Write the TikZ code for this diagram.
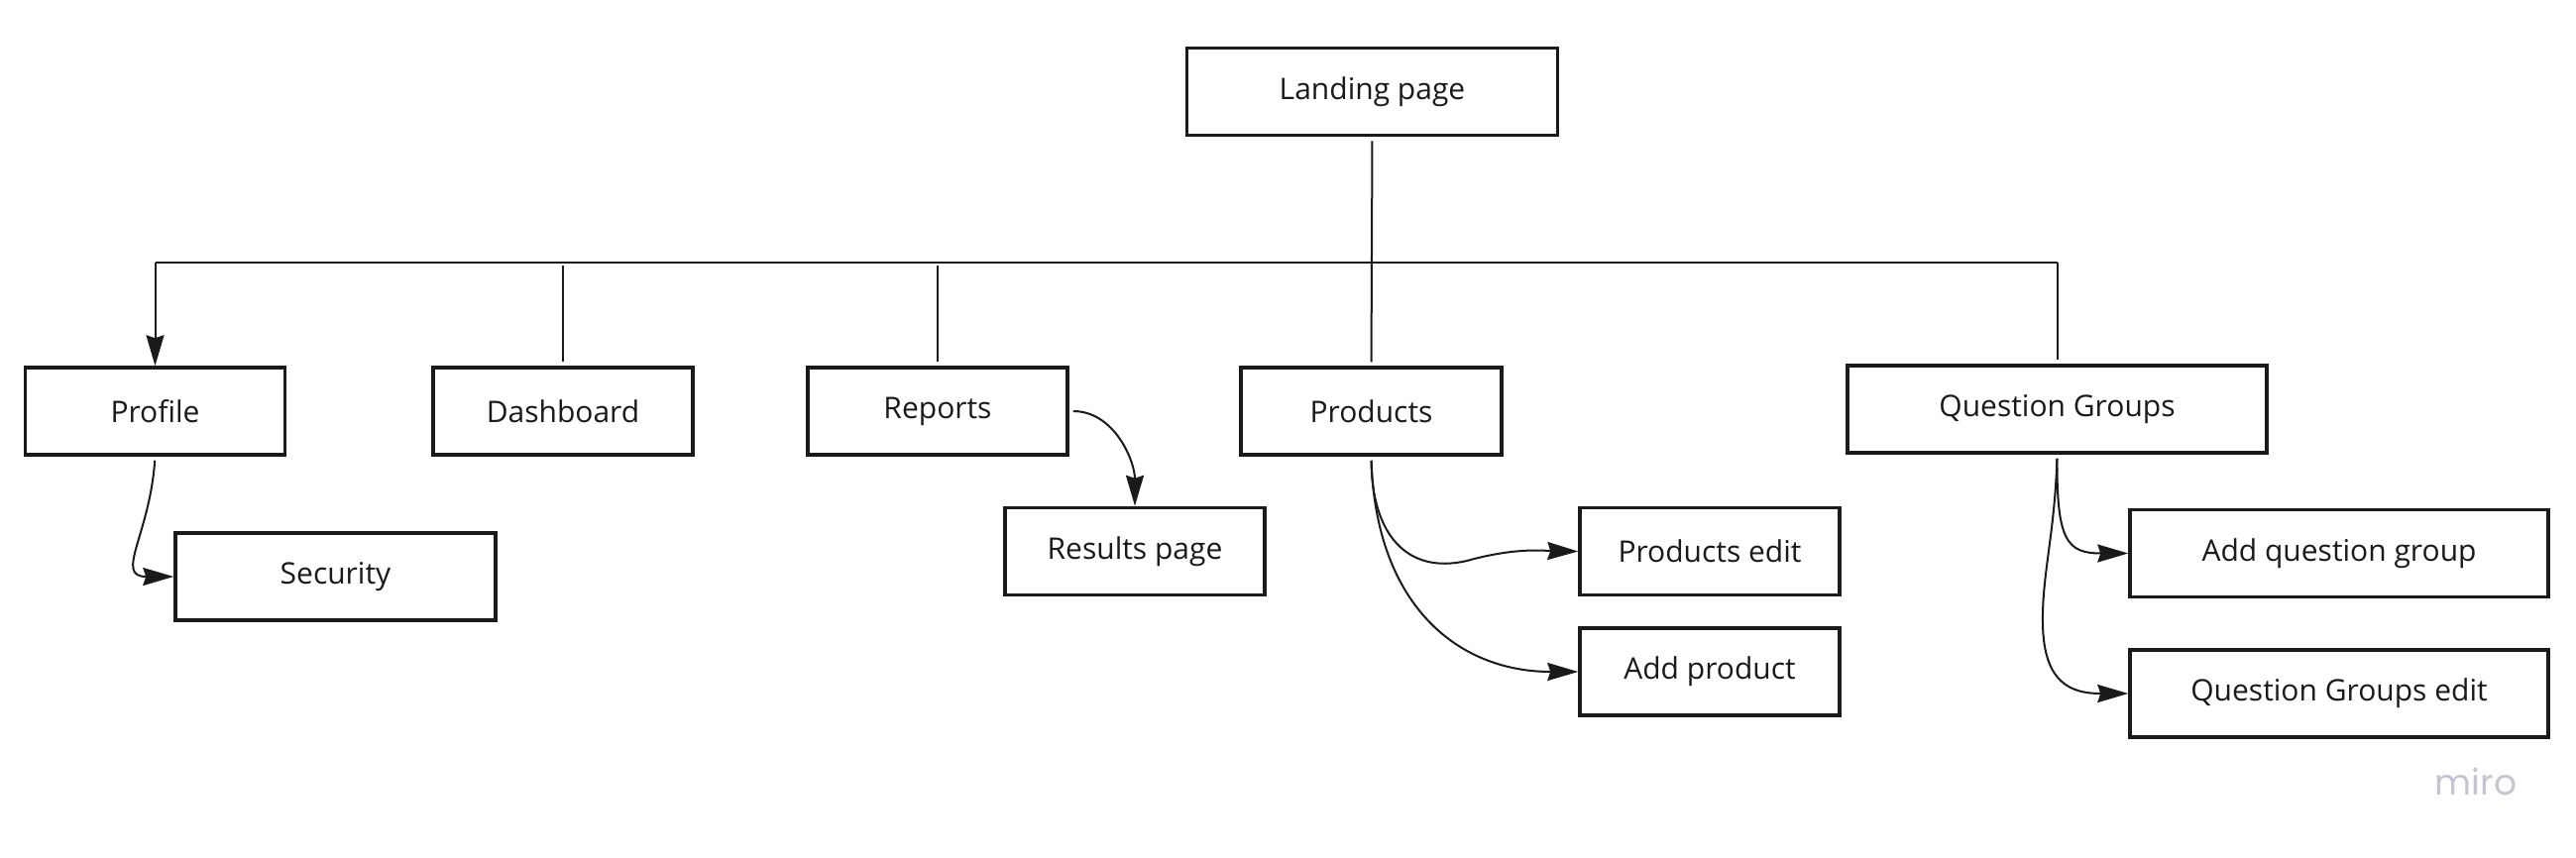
\documentclass[tikz,border=0pt]{standalone}
\usepackage{fontspec}
\setmainfont{Open Sans}
\newfontfamily\mirofont{Poppins}
\usetikzlibrary{arrows.meta}
\definecolor{ink}{HTML}{1A1A1A}
\definecolor{mirogray}{HTML}{C4C4D4}
\tikzset{
  pagebox/.style={draw=ink, line width=3.5pt, fill=white, text=ink,
    minimum height=88pt, inner sep=0pt,
    font=\fontsize{30}{36}\selectfont},
  conn/.style={draw=ink, line width=2pt},
  tip/.style={-{Stealth[length=31pt,width=18pt,inset=3pt]}},
}
\begin{document}
\begin{tikzpicture}[x=1pt,y=-1pt]
\useasboundingbox (0,0) rectangle (2599,865);
% nodes
\node[pagebox, minimum width=374pt] (landing) at (1384.5,92.5) {Landing page};
\node[pagebox, minimum width=262pt] (profile) at (156.5,415) {Profile};
\node[pagebox, minimum width=262pt] (dashboard) at (568,415) {Dashboard};
\node[pagebox, minimum width=262pt] (reports) at (946,415) {Reports};
\node[pagebox, minimum width=263pt] (products) at (1383.5,415) {Products};
\node[pagebox, minimum width=423pt] (qg) at (2075.5,413) {Question Groups};
\node[pagebox, minimum width=323pt] (security) at (338.5,582) {Security};
\node[pagebox, minimum width=262pt] (results) at (1145,556.5) {Results page};
\node[pagebox, minimum width=262pt] (pedit) at (1725,556.5) {Products edit};
\node[pagebox, minimum width=262pt] (addp) at (1725,678) {Add product};
\node[pagebox, minimum width=422pt] (addqg) at (2360,558.5) {Add question group};
\node[pagebox, minimum width=422pt] (qgedit) at (2360,700) {Question Groups edit};
\node[text=mirogray, font=\mirofont\fontsize{36}{40}\selectfont, inner sep=0pt] (miro) at (2498,789) {miro};
% bus coordinates
\coordinate (busL) at (156.5,265);
\coordinate (busR) at (2075.5,265);
\coordinate (dtop) at (568,268);
\coordinate (rtop) at (946,268);
% tree connectors
\draw[conn] (busL) -- (busR);
\draw[conn, tip] (busL) -- (profile.north);
\draw[conn, shorten <=4pt, shorten >=4pt] (landing.south) -- (products.north);
\draw[conn, shorten >=4pt] (busR) -- (qg.north);
\draw[conn, shorten >=4pt] (dtop) -- (dashboard.north);
\draw[conn, shorten >=4pt] (rtop) -- (reports.north);
% child connectors
\draw[conn, tip, shorten <=4pt] (profile.south) .. controls (151,540) and (115,582) .. (security.west);
\draw[conn, tip, shorten <=4pt] (reports.east) to[out=0, in=90] (results.north);
\draw[conn, tip, shorten <=4pt] (products.south) .. controls (1384,540) and (1420,580) .. (1480,566)
  .. controls (1530,552) and (1560,556) .. (pedit.west);
\draw[conn, tip, shorten <=4pt] (products.south) .. controls (1388,610) and (1470,678) .. (addp.west);
\draw[conn, tip, shorten <=4pt] (qg.south) .. controls (2075,545) and (2085,558.5) .. (addqg.west);
\draw[conn, tip, shorten <=4pt] (qg.south) .. controls (2073,540) and (2060,580) .. (2061,630)
  .. controls (2062,690) and (2090,700) .. (qgedit.west);
\end{tikzpicture}
\end{document}
